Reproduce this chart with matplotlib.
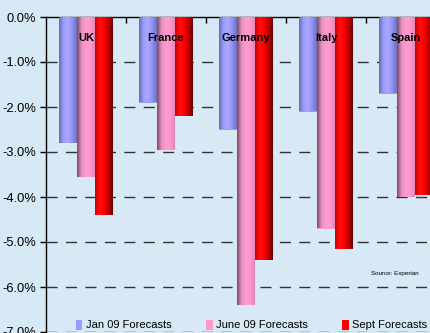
import matplotlib
matplotlib.use('Agg')
import matplotlib.pyplot as plt
from matplotlib.colors import LinearSegmentedColormap
from matplotlib.patches import Patch
import numpy as np

plt.rcParams['font.family'] = ['Liberation Sans', 'DejaVu Sans']

countries = ['UK', 'France', 'Germany', 'Italy', 'Spain']
jan09 = [-2.8, -1.9, -2.5, -2.1, -1.7]
june09 = [-3.55, -2.95, -6.4, -4.7, -4.0]
sept = [-4.4, -2.2, -5.4, -5.15, -3.95]
series_names = ['Jan 09 Forecasts', 'June 09 Forecasts', 'Sept Forecasts']
yticks = [0, -1, -2, -3, -4, -5, -6, -7]

bg = '#D6E9F5'
base_cols = ['#9999FF', '#FF99CC', '#FF0000']
# cylinder-like shading for each series (left -> right)
shades = [
    ['#6A6AB0', '#9C9CFF', '#A8A8FF', '#9090F0', '#7070C0'],
    ['#7A4A66', '#E890C0', '#FF9ACC', '#FF99CC', '#E088B8'],
    ['#D00000', '#FF1010', '#FF0000', '#C00000', '#6A0000'],
]

fig = plt.figure(figsize=(4.3, 3.33), dpi=100, facecolor=bg)
ax = fig.add_axes([46 / 430, 1 / 333, 400 / 430, 315 / 333], facecolor=bg)

x = np.arange(len(countries))
w = 0.225
grad = np.linspace(0, 1, 64).reshape(1, -1)
for i, vals in enumerate([jan09, june09, sept]):
    bars = ax.bar(x + (i - 1) * w, vals, w, color=base_cols[i], zorder=2)
    cmap = LinearSegmentedColormap.from_list('s%d' % i, shades[i])
    for b in bars:
        im = ax.imshow(grad, cmap=cmap, aspect='auto', zorder=3,
                       extent=[b.get_x(), b.get_x() + b.get_width(),
                               b.get_y() + b.get_height(), b.get_y()])
        im.set_clip_path(b)

ax.set_xlim(-0.5, 4.5)
ax.set_ylim(-7, 0)

for yv in yticks[1:]:
    ax.axhline(yv, color='#333333', lw=1.0, dashes=(8, 6), zorder=1)

ax.set_yticks(yticks)
ax.set_yticklabels(['%.1f%%' % v for v in yticks], fontsize=9.3)
ax.tick_params(axis='y', direction='out', length=4, width=1, pad=3)

ax.xaxis.tick_top()
ax.set_xticks(x)
ax.set_xticklabels([])
ax.tick_params(axis='x', which='major', length=0)
ax.set_xticks(x[:-1] + 0.5, minor=True)
ax.tick_params(axis='x', which='minor', direction='in', length=4, width=1, top=True)

for s in ['right', 'bottom']:
    ax.spines[s].set_visible(False)
ax.spines['top'].set_linewidth(1)
ax.spines['left'].set_linewidth(1)

for xi, name in zip(x, countries):
    ax.text(xi, -0.47, name, ha='center', va='center', fontsize=8,
            fontweight='bold', zorder=5)

ax.text(3.86, -5.69, 'Source: Experian', ha='center', va='center', fontsize=4.5,
        zorder=5)

handles = [Patch(facecolor=c, edgecolor='none') for c in base_cols]
fig.legend(handles, series_names, loc='center', bbox_to_anchor=(0.585, 0.024),
           ncol=3, frameon=False, fontsize=8, handlelength=0.6, handleheight=1.0,
           handletextpad=0.3, columnspacing=3.1)

fig.savefig('out.png', dpi=100, facecolor=bg)
